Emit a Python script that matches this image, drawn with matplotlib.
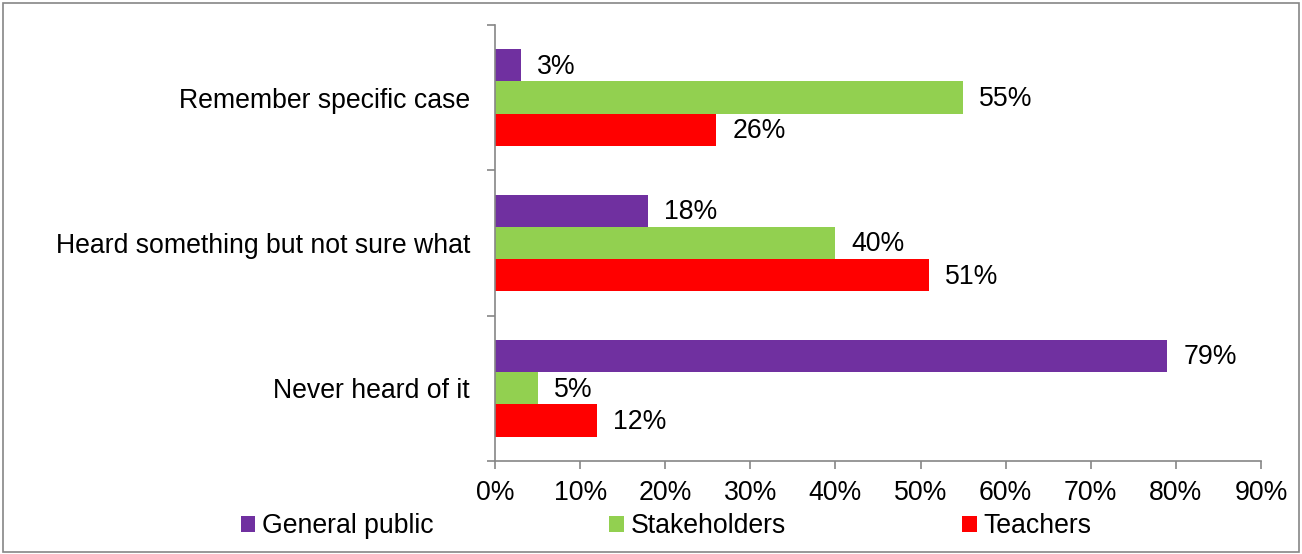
import matplotlib.pyplot as plt
import numpy as np
from matplotlib.patches import Patch, Rectangle

plt.rcParams['font.family'] = ['Liberation Sans', 'DejaVu Sans']

# Awareness responses by group (percent)
categories = ["Remember specific case", "Heard something but not sure what", "Never heard of it"]
groups = ["General public", "Stakeholders", "Teachers"]
general_public = [3, 18, 79]
stakeholders = [55, 40, 5]
teachers = [26, 51, 12]
colors = ["#7030A0", "#92D050", "#FF0000"]

fs = 19.2

fig = plt.figure(figsize=(13.02, 5.54), dpi=100)
ax = fig.add_axes([0.3802, 0.1679, 0.5883, 0.787])

y = np.arange(len(categories))
h = 0.667 / 3
series = [general_public, stakeholders, teachers]
for k, (vals, col) in enumerate(zip(series, colors)):
    pos = y + (k - 1) * h
    ax.barh(pos, vals, height=h, color=col, zorder=2)
    for p, v in zip(pos, vals):
        ax.text(v + 1.9, p + 0.01, f"{v}%", va="center", ha="left", fontsize=fs, color="black")

ax.set_xlim(0, 90)
ax.set_ylim(2.5, -0.5)
ax.set_xticks(np.arange(0, 91, 10))
ax.set_xticklabels([f"{t}%" for t in range(0, 91, 10)], fontsize=fs)
ax.set_yticks(y)
ax.set_yticklabels(categories, fontsize=fs)
ax.set_yticks([-0.5, 0.5, 1.5, 2.5], minor=True)

ax.tick_params(axis="y", which="major", length=0, pad=18)
ax.tick_params(axis="y", which="minor", length=6, width=1.2, color="#868686")
ax.tick_params(axis="x", length=6, width=1.2, color="#868686", pad=8)

for s in ["top", "right"]:
    ax.spines[s].set_visible(False)
for s in ["left", "bottom"]:
    ax.spines[s].set_color("#868686")
    ax.spines[s].set_linewidth(1.2)

handles = [Patch(facecolor=c, edgecolor="none") for c in colors]
fig.legend(handles, groups, loc="center", bbox_to_anchor=(0.5115, 0.05), ncol=3,
           frameon=False, fontsize=fs, handlelength=0.55, handleheight=0.55,
           handletextpad=0.25, columnspacing=6.6)

# Outer frame
fig.patches.append(Rectangle((0.002, 0.004), 0.996, 0.99, transform=fig.transFigure,
                             fill=False, edgecolor="#868686", linewidth=1.2))

fig.savefig("out.png", dpi=100)
